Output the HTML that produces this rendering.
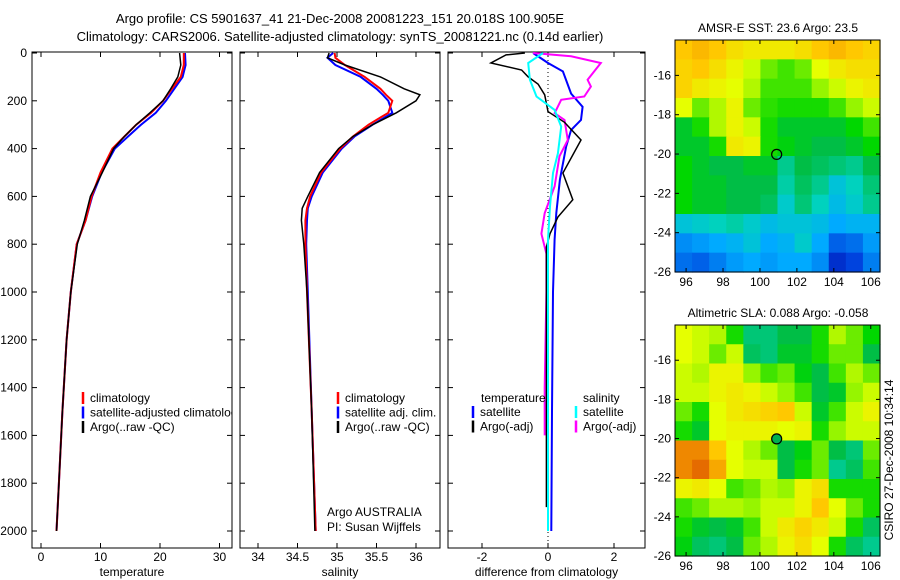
<!DOCTYPE html>
<html><head><meta charset="utf-8"><style>
body{margin:0;background:#fff;}
svg{display:block;font-family:"Liberation Sans",sans-serif;}
</style></head><body>
<svg id="c" width="900" height="580" xmlns="http://www.w3.org/2000/svg">
<text x="340" y="23" font-size="13" text-anchor="middle">Argo profile: CS 5901637_41 21-Dec-2008 20081223_151 20.018S 100.905E</text>
<text x="340" y="41" font-size="13" text-anchor="middle">Climatology: CARS2006. Satellite-adjusted climatology: synTS_20081221.nc (0.14d earlier)</text>
<text x="778" y="32" font-size="12" text-anchor="middle">AMSR-E SST: 23.6  Argo: 23.5</text>
<text x="778" y="317" font-size="12" text-anchor="middle">Altimetric SLA: 0.088  Argo: -0.058</text>
<text transform="translate(893,460) rotate(-90)" font-size="12" text-anchor="middle">CSIRO 27-Dec-2008 10:34:14</text>
<defs>
<clipPath id="cp1"><rect x="32" y="52" width="200" height="496"/></clipPath>
<clipPath id="cp2"><rect x="240" y="52" width="200" height="496"/></clipPath>
<clipPath id="cp3"><rect x="448" y="52" width="197" height="496"/></clipPath>
</defs>
<g id="g"></g>
</svg>
<script>
// ---- depth data ----
const tDepth = [0,50,100,150,200,250,300,350,400,500,600,700,800,1000,1200,1500,1800,2000];
const tClim  = [24,24,23.5,22,20.5,18.5,16,14,12,10,8.5,7.5,6,5,4.3,3.6,3,2.6];
const tSat   = [24.2,24.3,23.8,22.4,21,19.3,16.8,14.6,12.4,10.2,8.6,7.5,6,5,4.3,3.6,3,2.6];
const tArgo  = [23.3,23.5,23,21.8,20.5,18.3,16,14,12.2,10.3,8.3,7.3,6.1,5,4.3,3.6,3,2.6];
const sDepth = [0,20,50,100,150,175,200,250,300,350,400,500,600,650,700,800,1000,1500,2000];
const sClim  = [34.97,34.98,35.1,35.35,35.55,35.62,35.7,35.65,35.4,35.2,35.04,34.8,34.66,34.62,34.6,34.6,34.62,34.68,34.73];
const sSat   = [34.95,34.88,34.98,35.3,35.5,35.58,35.65,35.7,35.45,35.22,35.06,34.82,34.68,34.63,34.62,34.61,34.63,34.68,34.73];
const sArgo  = [34.9,34.88,35.1,35.55,35.85,36.05,36.0,35.75,35.45,35.2,35.02,34.78,34.63,34.56,34.55,34.58,34.62,34.68,34.72];
const dTDepth= [0,8,42,71,100,130,175,245,290,364,502,614,686,756,812,1000,1500,1900];
const dTArgo = [-0.7,-1.27,-1.73,-0.8,-0.6,-0.3,-0.1,0,0.5,1.0,0.45,0.75,0.3,0.06,-0.05,-0.05,-0.05,-0.05];
const dTSDepth=[0,42,77,170,225,280,322,392,530,670,780,1000,1500,2000];
const dTSat  = [-0.45,0,0.45,0.7,1.05,1.0,0.7,0.55,0.36,0.25,0.2,0.15,0.12,0.1];
const dSSDepth=[0,42,112,182,238,308,420,502,642,780,1000,1500,2000];
const dSSat  = [-0.15,-0.6,-0.55,-0.35,0.2,0.4,0.3,0.15,0.06,0,0,0,0];
const dSADepth=[0,14,42,112,140,182,196,252,280,364,432,558,670,756,840,1000,1400,1600];
const dSArgo = [-0.45,0.7,1.6,1.2,1.3,1.1,0.4,0.2,0.5,0.6,0.35,0.2,-0.1,-0.2,-0.05,-0.05,-0.1,-0.1];
const depthTicks=[0,200,400,600,800,1000,1200,1400,1600,1800,2000];
const tTicks=[0,10,20,30], sTicks=[34,34.5,35,35.5,36], dTicks=[-2,0,2];
// ---- map data (normalised 0..1, rows north->south) ----
const sstGrid=[
[.78,.8,.78,.74,.72,.72,.72,.74,.78,.8,.78,.76],
[.76,.78,.74,.7,.66,.6,.58,.6,.68,.72,.74,.74],
[.76,.72,.7,.68,.64,.58,.58,.58,.62,.66,.7,.72],
[.68,.6,.64,.7,.6,.57,.56,.56,.56,.58,.62,.66],
[.52,.56,.64,.7,.66,.56,.52,.52,.52,.52,.55,.58],
[.52,.52,.56,.72,.7,.56,.54,.52,.5,.5,.52,.55],
[.55,.52,.5,.5,.52,.52,.44,.5,.48,.46,.44,.5],
[.55,.52,.52,.5,.5,.5,.42,.48,.44,.36,.4,.46],
[.55,.52,.52,.5,.5,.48,.38,.46,.4,.34,.38,.44],
[.36,.38,.4,.42,.38,.34,.36,.36,.34,.3,.32,.32],
[.26,.28,.3,.32,.36,.3,.32,.38,.3,.2,.22,.28],
[.22,.2,.24,.28,.3,.28,.3,.3,.26,.12,.16,.24]];
const slaGrid=[
[.68,.66,.64,.56,.46,.46,.5,.5,.56,.64,.6,.55],
[.68,.66,.6,.66,.48,.46,.52,.52,.56,.6,.6,.5],
[.66,.64,.7,.7,.62,.58,.6,.54,.5,.58,.64,.6],
[.66,.66,.7,.72,.7,.66,.62,.58,.5,.52,.62,.66],
[.6,.56,.68,.72,.74,.76,.78,.66,.52,.58,.66,.7],
[.56,.52,.68,.7,.7,.7,.68,.7,.56,.62,.66,.66],
[.86,.86,.78,.68,.64,.6,.5,.54,.6,.5,.46,.6],
[.86,.9,.82,.68,.66,.66,.5,.56,.6,.44,.48,.58],
[.7,.72,.68,.58,.6,.64,.62,.7,.74,.56,.56,.56],
[.58,.6,.64,.64,.62,.66,.66,.7,.78,.68,.6,.56],
[.56,.52,.5,.52,.58,.66,.72,.76,.72,.66,.56,.48],
[.54,.48,.46,.5,.6,.64,.7,.74,.68,.56,.48,.44]];
const mapXTicks=[96,98,100,102,104,106], mapYTicks=[-16,-18,-20,-22,-24,-26];
const argoLon=100.905, argoLat=-20.018;

const NS="http://www.w3.org/2000/svg", G=document.getElementById('g');
function mk(t,a,p){const e=document.createElementNS(NS,t);for(const k in a)e.setAttribute(k,a[k]);(p||G).appendChild(e);return e;}
const yD=d=>53+d*0.239;
function panel(x0,w,xs,ticks,label,name,clip){
  const f=mk('rect',{x:x0,y:52,width:w,height:496,fill:'none',stroke:'#000'});
  
  
  ticks.forEach(t=>{const x=xs(t);mk('line',{x1:x,x2:x,y1:548,y2:543,stroke:'#000'});mk('line',{x1:x,x2:x,y1:52,y2:57,stroke:'#000'});
    const tx=mk('text',{x:x,y:561,'font-size':12,'text-anchor':'middle'});tx.textContent=t;
    
    });
  depthTicks.forEach(d=>{mk('line',{x1:x0,x2:x0+5,y1:yD(d),y2:yD(d),stroke:'#000'});mk('line',{x1:x0+w,x2:x0+w-5,y1:yD(d),y2:yD(d),stroke:'#000'});});
  const l=mk('text',{x:x0+w/2,y:576,'font-size':12,'text-anchor':'middle'});l.textContent=label;
  
  
  return mk('g',{'clip-path':'url(#'+clip+')'});
}
function line(g,xs,dep,vals,col,w,name){
  const p=mk('polyline',{points:dep.map((d,i)=>xs(vals[i]).toFixed(1)+','+yD(d).toFixed(1)).join(' '),fill:'none',stroke:col,'stroke-width':w},g);
  
  
}
depthTicks.forEach(d=>{const t=mk('text',{x:27,y:yD(d)+4,'font-size':12,'text-anchor':'end'});t.textContent=d;
  
  });
const xT=v=>41+v*5.95, xS=v=>258+(v-34)*79, xDf=v=>548+v*33;
let g1=panel(32,200,xT,tTicks,'temperature','temp-panel','cp1');
line(g1,xT,tDepth,tSat,'#00f',2,'temp-satellite-line');
line(g1,xT,tDepth,tClim,'#f00',2,'temp-climatology-line');
line(g1,xT,tDepth,tArgo,'#000',1.5,'temp-argo-line');
function legend(g,x,y,items,name){items.forEach((it,i)=>{mk('line',{x1:x,x2:x,y1:y+i*14.5-10,y2:y+i*14.5+2,stroke:it[1],'stroke-width':2.5},g);
  const t=mk('text',{x:x+7,y:y+i*14.5,'font-size':12},g);t.textContent=it[0];
  
  });}
legend(g1,83,402,[['climatology','#f00'],['satellite-adjusted climatology','#00f'],['Argo(..raw -QC)','#000']],'temp-legend');
let g2=panel(240,200,xS,sTicks,'salinity','sal-panel','cp2');
line(g2,xS,sDepth,sSat,'#00f',2,'sal-satellite-line');
line(g2,xS,sDepth,sClim,'#f00',2,'sal-climatology-line');
line(g2,xS,sDepth,sArgo,'#000',1.5,'sal-argo-line');
legend(g2,338,402,[['climatology','#f00'],['satellite adj. clim.','#00f'],['Argo(..raw -QC)','#000']],'sal-legend');
[['Argo AUSTRALIA',516],['PI: Susan Wijffels',531]].forEach(a=>{const t=mk('text',{x:327,y:a[1],'font-size':12},g2);t.textContent=a[0];
  
  });
let g3=panel(448,197,xDf,dTicks,'difference from climatology','diff-panel','cp3');
mk('line',{x1:548,x2:548,y1:52,y2:548,stroke:'#000','stroke-dasharray':'1,3'},g3);
line(g3,xDf,dTSDepth,dTSat,'#00f',2,'diff-temp-satellite-line');
line(g3,xDf,dSADepth,dSArgo,'#f0f',2,'diff-sal-argo-line');
line(g3,xDf,dTDepth,dTArgo,'#000',1.5,'diff-temp-argo-line');
line(g3,xDf,dSSDepth,dSSat,'#0ff',2,'diff-sal-satellite-line');
(()=>{const h=mk('text',{x:481,y:402,'font-size':12},g3);h.textContent='temperature';
const h2=mk('text',{x:583,y:402,'font-size':12},g3);h2.textContent='salinity';})();
legend(g3,473,416,[['satellite','#00f'],['Argo(-adj)','#000']],'diff-legend-temp');
legend(g3,576,416,[['satellite','#0ff'],['Argo(-adj)','#f0f']],'diff-legend-sal');

const stops=[[0,[0,0,140]],[.15,[0,60,220]],[.3,[0,170,255]],[.4,[0,210,190]],[.5,[0,190,70]],[.55,[0,215,0]],[.62,[150,245,0]],[.68,[230,255,0]],[.78,[255,200,0]],[.88,[235,120,0]],[1,[200,40,0]]];
function cmap(v){v=Math.max(0,Math.min(1,v));for(let i=1;i<stops.length;i++){if(v<=stops[i][0]){const a=stops[i-1],b=stops[i],t=(v-a[0])/(b[0]-a[0]);
  return 'rgb('+a[1].map((c,k)=>Math.round(c+(b[1][k]-c)*t)).join(',')+')';}}return 'rgb(200,40,0)';}
function map(y0,h,grid,name,fillMarker){
  const x0=675,w=205,lon0=95.4,lon1=106.5,lat0=-14.2,lat1=-26;
  const mx=v=>x0+(v-lon0)/(lon1-lon0)*w, my=v=>y0+(v-lat0)/(lat1-lat0)*h;
  const rows=grid.length,cols=grid[0].length,cw=w/cols,ch=h/rows;
  grid.forEach((r,i)=>r.forEach((v,j)=>{const c=mk('rect',{x:x0+j*cw,y:y0+i*ch,width:cw+0.6,height:ch+0.6,fill:cmap(v)});
    
    }));
  const f=mk('rect',{x:x0,y:y0,width:w,height:h,fill:'none',stroke:'#000'});
  
  mapXTicks.forEach(t=>{const x=mx(t);mk('line',{x1:x,x2:x,y1:y0+h,y2:y0+h-4,stroke:'#000'});mk('line',{x1:x,x2:x,y1:y0,y2:y0+4,stroke:'#000'});const tx=mk('text',{x:x,y:y0+h+14,'font-size':12,'text-anchor':'middle'});tx.textContent=t;
    });
  mapYTicks.forEach(t=>{const y=my(t);mk('line',{x1:x0,x2:x0+4,y1:y,y2:y,stroke:'#000'});mk('line',{x1:x0+w,x2:x0+w-4,y1:y,y2:y,stroke:'#000'});const tx=mk('text',{x:x0-4,y:y+4,'font-size':12,'text-anchor':'end'});tx.textContent=t;
    });
  const m=mk('circle',{cx:mx(argoLon),cy:my(argoLat),r:5,fill:fillMarker||'none',stroke:'#000','stroke-width':1.2});
  
}
map(40,232,sstGrid,'sst-map');
map(325,231,slaGrid,'sla-map','#00b050');
</script>
</body></html>
